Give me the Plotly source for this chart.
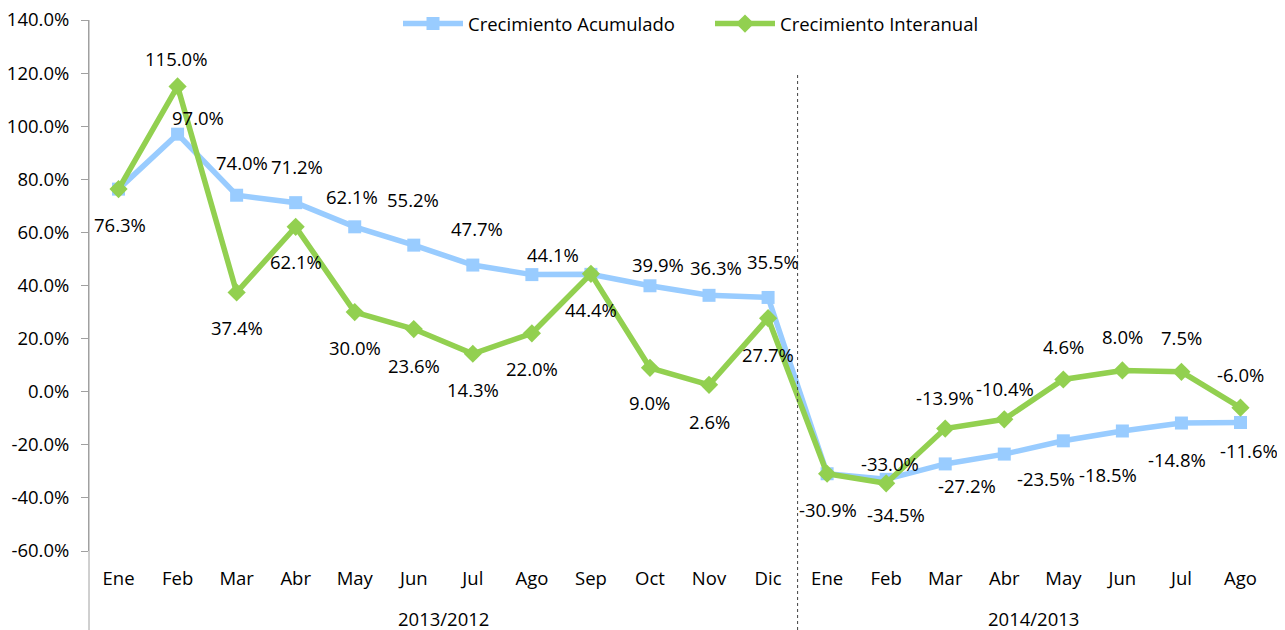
import plotly.graph_objects as go

# ---------------- data ----------------
groups = ["2013/2012"] * 12 + ["2014/2013"] * 8
months = ["Ene", "Feb", "Mar", "Abr", "May", "Jun", "Jul", "Ago", "Sep", "Oct", "Nov", "Dic",
          "Ene", "Feb", "Mar", "Abr", "May", "Jun", "Jul", "Ago"]
acumulado = [76.3, 97.0, 74.0, 71.2, 62.1, 55.2, 47.7, 44.1, 44.2, 39.9, 36.3, 35.5,
             -30.9, -33.0, -27.2, -23.5, -18.5, -14.8, -11.8, -11.6]
interanual = [76.3, 115.0, 37.4, 62.1, 30.0, 23.6, 14.3, 22.0, 44.4, 9.0, 2.6, 27.7,
              -30.9, -34.5, -13.9, -10.4, 4.6, 8.0, 7.5, -6.0]
y_ticks = [-60, -40, -20, 0, 20, 40, 60, 80, 100, 120, 140]

# which labels are shown (others hidden behind overlapping ones)
show_acum = [False, True, True, True, True, True, True, True, False, True, True, True,
             False, True, True, True, True, True, False, True]
show_inter = [True] * 20

# label offsets in pixels (dx right, dy down) relative to the point
off_acum = [(0, 0), (20, -17), (5, -33), (1, -36), (-3, -30), (-1, -46), (4, -37), (21, -20),
            (0, 0), (8, -21), (7, -28), (5, -36), (0, 0), (4, -16), (22, 22), (42, 24),
            (45, 34), (55, 29), (0, 0), (9, 28)]
off_inter = [(1, 35), (-2, -28), (0, 35), (0, 35), (0, 35), (0, 36), (0, 36), (0, 35),
             (0, 36), (0, 35), (0, 37), (0, 36), (1, 36), (10, 31), (0, -31), (1, -31),
             (0, -33), (0, -34), (0, -34), (0, -33)]

# ---------------- layout constants ----------------
# the page body has an 8px margin, so the figure is drawn 8px in from the top-left
BODY = 8
W, H = 1285 - BODY, 630 - BODY
ML, MR, MT, MB = 89 - BODY, 15, 20 - BODY, 79
plot_w = W - ML - MR
plot_h = H - MT - MB
FONT = "Open Sans"
FS = 18.5
AX = "#A0A0A0"
BLUE = "#99CCFF"
GREEN = "#92D050"

n = len(months)
xs = list(range(n))
xr = [-0.5, n - 0.5]
ymin, ymax = y_ticks[0], y_ticks[-1]

fig = go.Figure()
fig.add_trace(go.Scatter(
    x=xs, y=acumulado, name="Crecimiento Acumulado", mode="lines+markers",
    line=dict(color=BLUE, width=5.5),
    marker=dict(symbol="square", size=13, color=BLUE),
    hoverinfo="skip"))
fig.add_trace(go.Scatter(
    x=xs, y=interanual, name="Crecimiento Interanual", mode="lines+markers",
    line=dict(color=GREEN, width=5.5),
    marker=dict(symbol="diamond", size=14, color=GREEN),
    hoverinfo="skip"))

annotations = []
for vals, shows, offs in ((acumulado, show_acum, off_acum), (interanual, show_inter, off_inter)):
    for i, v in enumerate(vals):
        if not shows[i]:
            continue
        dx, dy = offs[i]
        annotations.append(dict(
            x=i, y=v, xref="x", yref="y", text=f"{v:.1f}%", showarrow=False,
            xanchor="center", yanchor="middle", xshift=dx, yshift=-dy,
            font=dict(family=FONT, size=FS, color="black")))

# group labels and boundaries
group_names = []
group_bounds = [-0.5]
for i, g in enumerate(groups):
    if not group_names or group_names[-1] != g:
        group_names.append(g)
        if i > 0:
            group_bounds.append(i - 0.5)
group_bounds.append(n - 0.5)
for k, g in enumerate(group_names):
    cx = (group_bounds[k] + group_bounds[k + 1]) / 2
    annotations.append(dict(
        x=cx, y=0, xref="x", yref="paper", text=g, showarrow=False,
        xanchor="center", yanchor="middle", yshift=-67,
        font=dict(family=FONT, size=FS, color="black")))

zero_pos = (0 - ymin) / (ymax - ymin)
bottom_paper = -MB / plot_h

shapes = [
    # y axis line extended through the label rows
    dict(type="line", xref="paper", yref="paper", x0=0, x1=0, y0=bottom_paper, y1=1,
         line=dict(color=AX, width=1)),
    # dotted separator between the two periods
    dict(type="line", xref="x", yref="paper", x0=group_bounds[1], x1=group_bounds[1],
         y0=bottom_paper, y1=(plot_h - 52) / plot_h,
         line=dict(color="#404040", width=1, dash="dot")),
]

fig.update_layout(
    width=W, height=H,
    margin=dict(l=ML, r=MR, t=MT, b=MB, pad=0, autoexpand=False),
    paper_bgcolor="white", plot_bgcolor="white",
    font=dict(family=FONT, size=FS, color="black"),
    showlegend=True,
    legend=dict(orientation="h", x=(398 - 89) / plot_w, xanchor="left", yref="container",
                y=1 - 16 / H, yanchor="middle", font=dict(family=FONT, size=FS),
                itemwidth=60, entrywidth=237, bgcolor="rgba(0,0,0,0)", tracegroupgap=0),
    annotations=annotations,
    shapes=shapes,
    xaxis=dict(range=xr, tickmode="array", tickvals=xs, ticktext=months,
               showline=False, showgrid=False, zeroline=False, ticks="",
               ticklabelstandoff=14, tickfont=dict(family=FONT, size=FS)),
    xaxis2=dict(overlaying="x", anchor="free", position=zero_pos, range=xr,
                tickmode="array", tickvals=[v / 2 for v in range(-1, 2 * n)],
                ticks="outside", ticklen=6, tickcolor=AX, showticklabels=False,
                showline=True, linecolor=AX, linewidth=1.5, showgrid=False, zeroline=False),
    xaxis3=dict(overlaying="x", anchor="y", side="bottom", range=xr,
                tickmode="array", tickvals=[i - 0.5 for i in range(n + 1)],
                ticks="outside", ticklen=42, tickcolor=AX, showticklabels=False,
                showline=False, showgrid=False, zeroline=False),
    xaxis4=dict(overlaying="x", anchor="y", side="bottom", range=xr,
                tickmode="array", tickvals=group_bounds,
                ticks="outside", ticklen=MB, tickcolor=AX, showticklabels=False,
                showline=False, showgrid=False, zeroline=False),
    yaxis=dict(range=[ymin, ymax], tickmode="array", tickvals=y_ticks,
               ticktext=[f"{v:.1f}%" for v in y_ticks], ticks="outside", ticklen=7,
               tickcolor=AX, showline=True, linecolor=AX, linewidth=1,
               showgrid=False, zeroline=False, ticklabelstandoff=8,
               ticklabeloverflow="allow",
               tickfont=dict(family=FONT, size=FS)),
)

fig.write_html("out.html")
